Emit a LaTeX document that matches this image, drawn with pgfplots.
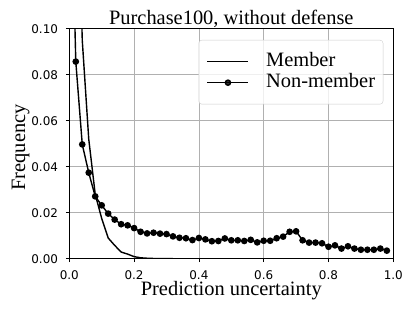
\documentclass[border=0pt]{standalone}
\usepackage{fontspec}
\setmainfont{Liberation Serif}
\newfontfamily\tickfont{DejaVu Sans}
\usepackage{pgfplots}
\pgfplotsset{compat=1.18}
\definecolor{gridgray}{HTML}{B0B0B0}
\definecolor{legedge}{HTML}{CCCCCC}
\pgfplotstableread{
x y
0.00 0.2000
0.02 0.0857
0.04 0.0497
0.06 0.0374
0.08 0.0271
0.10 0.0232
0.12 0.0196
0.14 0.0170
0.16 0.0150
0.18 0.0145
0.20 0.0133
0.22 0.0117
0.24 0.0110
0.26 0.0113
0.28 0.0109
0.30 0.0107
0.32 0.0097
0.34 0.0091
0.36 0.0089
0.38 0.0081
0.40 0.0090
0.42 0.0084
0.44 0.0076
0.46 0.0077
0.48 0.0088
0.50 0.0080
0.52 0.0080
0.54 0.0077
0.56 0.0082
0.58 0.0071
0.60 0.0078
0.62 0.0078
0.64 0.0089
0.66 0.0096
0.68 0.0117
0.70 0.0119
0.72 0.0080
0.74 0.0070
0.76 0.0070
0.78 0.0067
0.80 0.0052
0.82 0.0058
0.84 0.0044
0.86 0.0054
0.88 0.0044
0.90 0.0039
0.92 0.0039
0.94 0.0039
0.96 0.0044
0.98 0.0035
}\nonmember
\pgfplotstableread{
x y
0.00 0.5000
0.02 0.2000
0.04 0.0950
0.06 0.0520
0.08 0.0280
0.10 0.0175
0.12 0.0090
0.14 0.0058
0.16 0.0029
0.18 0.0020
0.20 0.0009
0.22 0.0004
0.24 0.0002
0.26 0.0001
0.28 0.00005
0.30 0.00002
0.32 0.0
0.40 0.0
0.50 0.0
0.60 0.0
0.70 0.0
0.80 0.0
0.90 0.0
0.98 0.0
}\member
\begin{document}
\begin{tikzpicture}
\begin{axis}[
  name=main,
  at={(0,0)}, anchor=south west,
  scale only axis, width=324bp, height=230bp,
  xmin=0, xmax=1, ymin=0, ymax=0.1,
  xtick={0,0.2,0.4,0.6,0.8,1.0},
  ytick={0,0.02,0.04,0.06,0.08,0.1},
  scaled ticks=false,
  xticklabel style={/pgf/number format/fixed, /pgf/number format/fixed zerofill, /pgf/number format/precision=1, anchor=north, yshift=-8.5bp},
  yticklabel style={/pgf/number format/fixed, /pgf/number format/fixed zerofill, /pgf/number format/precision=2, anchor=east, xshift=-7.6bp},
  /pgf/number format/assume math mode=true,
  ticklabel style={font=\tickfont\fontsize{12}{13}\selectfont, inner sep=0pt},
  tick align=outside, major tick length=3.5bp,
  tick style={black, line width=0.8bp},
  xtick pos=bottom, ytick pos=left,
  grid=major,
  major grid style={gridgray, line width=0.8bp},
  axis line style={black, line width=0.8bp},
  xlabel={Prediction uncertainty},
  xlabel style={font=\fontsize{20.5}{22}\selectfont, at={(0.5,-0.1605)}, anchor=base, inner sep=0pt},
  ylabel={Frequency},
  ylabel style={font=\fontsize{20.5}{22}\selectfont, at={(-0.1367,0.4835)}, anchor=base, inner sep=0pt},
  legend style={at={(0.969,0.951)}, anchor=north east, draw=legedge, rounded corners=3bp,
    fill=white, fill opacity=0.8, text opacity=1, font=\fontsize{20.5}{22}\selectfont,
    inner xsep=8bp, inner ysep=11bp, row sep=0bp,
    nodes={inner xsep=0pt, inner ysep=1.5bp, text height=14bp, text depth=4bp},
    /tikz/every odd column/.append style={column sep=17bp}},
  legend cell align=left,
  legend image code/.code={\draw[mark repeat=2,mark phase=2,#1] plot coordinates {(0bp,0bp) (20.5bp,0bp) (41bp,0bp)};},
]
\addplot[black, line width=1.4bp, no marks] table[x=x,y=y] {\member};
\addlegendentry{Member}
\addplot[black, line width=1.4bp, mark=*, mark size=2.6bp, mark options={solid, fill=black}] table[x=x,y=y] {\nonmember};
\addlegendentry{Non-member}
\end{axis}
\node[font=\fontsize{20.5}{22}\selectfont, anchor=base, inner sep=0pt] at ([yshift=4.4bp]main.north) {Purchase100, without defense};
\pgfresetboundingbox
\path[use as bounding box] (-69.3bp,-52.3bp) rectangle (345.7bp,258.7bp);
\end{tikzpicture}
\end{document}
